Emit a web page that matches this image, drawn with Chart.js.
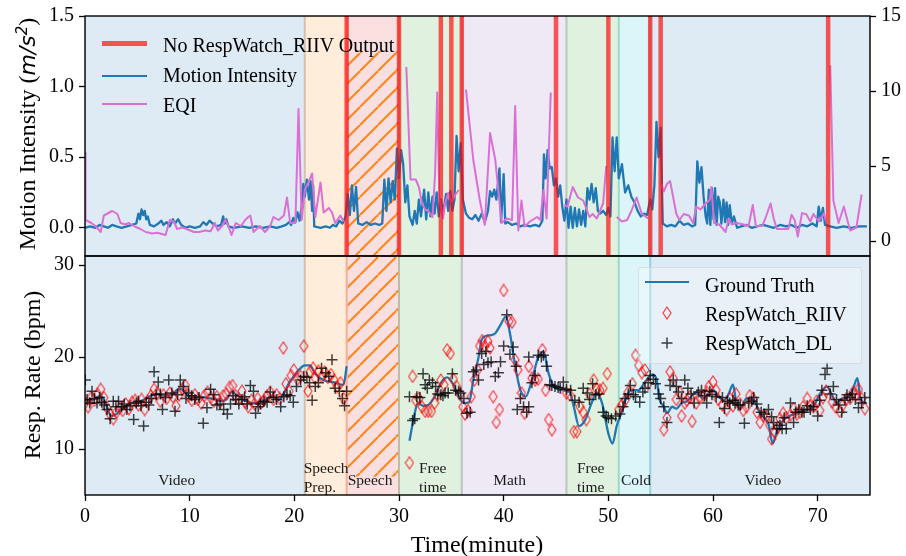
<!DOCTYPE html>
<html>
<head>
<meta charset="utf-8">
<script src="https://cdn.jsdelivr.net/npm/chart.js@4.4.1/dist/chart.umd.min.js"></script>
<style>
  html, body { margin: 0; padding: 0; background: #fff; }
  #wrap { position: relative; width: 906px; height: 556px; overflow: hidden; font-family: 'Liberation Serif', serif; color: #000; }
  canvas { position: absolute; left: 0; }
  .txt { position: absolute; white-space: nowrap; font-size: 20px; line-height: 20px; }
  .title { position: absolute; white-space: nowrap; font-size: 24px; line-height: 24px; width: 320px; height: 24px; text-align: center; }
  .math { font-family: 'DejaVu Sans', sans-serif; font-style: italic; font-size: 22px; }
  .math sup { font-size: 15px; line-height: 0; }
  .sw { position: absolute; }
</style>
</head>
<body>
<div id="wrap">
  <canvas id="topChart" width="906" height="262" style="top:0"></canvas>
  <canvas id="botChart" width="906" height="306" style="top:250px"></canvas>

  <div class="title" style="left:-133.5px; top:122px; transform:rotate(-90deg)">Motion Intensity (<span class="math">m/s<sup>2</sup></span>)</div>
  <div class="title" style="left:-128.5px; top:363px; transform:rotate(-90deg)">Resp. Rate (bpm)</div>
  <div class="title" style="left:317px; top:532px">Time(minute)</div>

  <!-- top legend -->
  <div class="sw" style="left:102px; top:40.5px; width:45px; height:5px; background:rgba(255,0,0,0.65)"></div>
  <div class="txt" style="left:163px; top:34.5px">No RespWatch_RIIV Output</div>
  <div class="sw" style="left:102px; top:74.8px; width:45px; height:2.4px; background:#1f77b4"></div>
  <div class="txt" style="left:163px; top:65px">Motion Intensity</div>
  <div class="sw" style="left:102px; top:103px; width:45px; height:2px; background:#da70d6"></div>
  <div class="txt" style="left:163px; top:94.5px">EQI</div>

  <!-- bottom legend -->
  <div class="sw" style="left:638px; top:267px; width:222px; height:95px; background:rgba(255,255,255,0.3); border:1px solid rgba(205,205,205,0.6); border-radius:4px"></div>
  <div class="sw" style="left:645px; top:280.8px; width:44px; height:2.4px; background:#1f77b4"></div>
  <div class="txt" style="left:705px; top:274.5px">Ground Truth</div>
  <svg class="sw" style="left:662px; top:306px" width="10" height="14"><path d="M5 1 L9 7 L5 13 L1 7 Z" fill="none" stroke="rgba(255,0,0,0.75)" stroke-width="1.2"/></svg>
  <div class="txt" style="left:705px; top:303.5px">RespWatch_RIIV</div>
  <svg class="sw" style="left:661px; top:337px" width="12" height="12"><path d="M6 0.5 V11.5 M0.5 6 H11.5" stroke="rgba(0,0,0,0.75)" stroke-width="1.5"/></svg>
  <div class="txt" style="left:705px; top:333px">RespWatch_DL</div>
</div>

<script>
// ---------- DATA ----------
const xTicks = [0, 10, 20, 30, 40, 50, 60, 70];
const motionTicks = [0, 0.5, 1.0, 1.5];
const eqiTicks = [0, 5, 10, 15];
const rateTicks = [10, 20, 30];

const phaseBounds = [[0, 21], [21, 25], [25, 30], [30, 36], [36, 46], [46, 51], [51, 54], [54, 75]];
const phaseNames = ['Video', 'Speech\nPrep.', 'Speech', 'Free\ntime', 'Math', 'Free\ntime', 'Cold', 'Video'];
const noOutputTimes = [25, 30, 34, 35, 36, 45, 50, 54, 55, 71];

// motion intensity (minute, m/s^2)
const motion = [[0,0.0],[0.5,0.01],[1,0.0],[1.4,0.02],[1.8,0.01],[2.2,0.0],[2.6,0.02],[3,0.01],[3.5,0.0],[4,0.01],[4.5,0.02],[4.9,0.03],
  [5.1,0.1],[5.25,0.06],[5.4,0.13],[5.55,0.09],[5.7,0.12],[5.85,0.06],[6.0,0.08],[6.2,0.02],[6.6,0.01],[7.0,0.03],[7.3,0.05],[7.5,0.02],
  [7.8,0.04],[8.1,0.01],[8.4,0.06],[8.6,0.03],[8.9,0.06],[9.2,0.02],[9.6,0.0],[10,0.01],[10.5,0.0],[11,0.01],[11.3,0.04],[11.6,0.02],
  [11.9,0.05],[12.2,0.03],[12.6,0.01],[13.0,0.02],[13.2,0.08],[13.35,0.03],[13.5,0.06],[13.7,0.01],[14.2,0.0],[15,0.01],[15.7,0.0],
  [16.3,0.01],[17,0.0],[17.7,0.01],[18.3,0.0],[18.8,0.01],[19.2,0.02],[19.5,0.04],[19.7,0.02],[19.9,0.07],[20.1,0.04],[20.3,0.11],
  [20.5,0.05],[20.7,0.15],[20.85,0.31],[21.0,0.22],[21.2,0.34],[21.4,0.2],[21.55,0.33],[21.7,0.12],[21.8,0.3],[21.9,0.01],[22.5,0.0],
  [23,0.01],[23.4,0.0],[23.7,0.02],[24.0,0.01],[24.3,0.05],[24.6,0.03],[24.9,0.08],[25.1,0.24],[25.3,0.09],[25.5,0.3],[25.7,0.12],
  [25.9,0.29],[26.1,0.03],[26.5,0.02],[26.9,0.04],[27.3,0.02],[27.7,0.03],[28.1,0.02],[28.4,0.03],[28.6,0.34],[28.8,0.12],[29.0,0.35],
  [29.2,0.18],[29.4,0.33],[29.6,0.2],[29.8,0.56],[30.0,0.35],[30.2,0.55],[30.4,0.45],[30.6,0.18],[30.8,0.3],[31.0,0.08],[31.3,0.02],
  [31.5,0.12],[31.7,0.03],[31.9,0.2],[32.1,0.08],[32.4,0.27],[32.6,0.06],[32.8,0.25],[33.0,0.08],[33.2,0.22],[33.4,0.1],[33.6,0.25],
  [33.8,0.08],[34.0,0.2],[34.2,0.1],[34.5,0.24],[34.7,0.12],[34.9,0.26],[35.1,0.12],[35.3,0.2],[35.5,0.65],[35.7,0.4],[35.9,0.6],
  [36.1,0.2],[36.4,0.1],[36.7,0.07],[37.0,0.06],[37.3,0.09],[37.6,0.05],[37.9,0.1],[38.2,0.04],[38.5,0.12],[38.7,0.26],[38.9,0.22],
  [39.1,0.27],[39.3,0.2],[39.6,0.42],[39.75,0.04],[40.0,0.38],[40.15,0.03],[40.4,0.04],[40.8,0.02],[41.2,0.03],[41.6,0.01],[42.0,0.02],
  [42.5,0.01],[43.0,0.02],[43.4,0.01],[43.7,0.05],[43.85,0.52],[44.0,0.35],[44.2,0.55],[44.4,0.42],[44.6,0.43],[44.8,0.3],[45.0,0.35],
  [45.2,0.22],[45.4,0.3],[45.6,0.15],[45.8,0.05],[46.0,0.2],[46.2,0.0],[46.4,0.15],[46.6,0.0],[46.8,0.14],[47.0,0.01],[47.2,0.13],
  [47.4,0.02],[47.6,0.12],[47.8,0.01],[48.0,0.28],[48.2,0.2],[48.4,0.31],[48.6,0.18],[48.8,0.28],[49.0,0.12],[49.2,0.1],[49.5,0.12],
  [49.8,0.09],[50.0,0.14],[50.2,0.08],[50.4,0.64],[50.6,0.4],[50.8,0.64],[51.0,0.35],[51.3,0.45],[51.6,0.25],[51.9,0.3],[52.2,0.22],
  [52.5,0.18],[52.8,0.12],[53.1,0.08],[53.4,0.1],[53.7,0.09],[54.0,0.2],[54.2,0.13],[54.4,0.3],[54.6,0.75],[54.8,0.5],[55.0,0.71],
  [55.2,0.03],[55.6,0.01],[56.0,0.02],[56.4,0.01],[56.8,0.05],[57.2,0.02],[57.6,0.03],[58.0,0.01],[58.3,0.02],[58.5,0.47],[58.7,0.32],
  [58.9,0.43],[59.1,0.22],[59.3,0.08],[59.45,0.03],[59.6,0.27],[59.75,0.02],[59.9,0.28],[60.05,0.06],[60.2,0.28],[60.35,0.02],
  [60.5,0.22],[60.65,0.18],[60.8,0.03],[61.0,0.2],[61.15,0.04],[61.3,0.18],[61.45,0.02],[61.6,0.16],[61.8,0.03],[62.0,0.08],[62.3,0.0],
  [62.7,0.01],[63.2,0.02],[63.7,0.0],[64.2,0.01],[64.8,0.02],[65.3,0.01],[65.8,0.0],[66.4,0.02],[67,0.01],[67.5,0.02],[68.0,0.0],
  [68.5,0.02],[69.0,0.01],[69.5,0.03],[69.9,0.01],[70.1,0.15],[70.3,0.05],[70.5,0.14],[70.7,0.02],[71.2,0.01],[71.8,0.0],[72.5,0.01],
  [73.2,0.0],[74.0,0.01],[74.7,0.01]];

// EQI (minute, index); null = no output
const eqi = [[0,5.9],[0.05,1.4],[0.6,1.2],[1.0,1.0],[1.5,0.6],[1.8,1.7],[2.6,2.0],[3.1,1.8],[3.4,1.2],[3.85,1.1],[4.2,1.2],[4.8,0.95],
  [5.3,0.8],[5.8,0.6],[6.4,0.5],[6.9,0.55],[7.7,0.4],[8.1,1.4],[8.5,1.3],[8.8,0.8],[9.3,0.9],[9.7,0.8],[10.4,0.6],[10.9,0.6],[11.5,0.7],
  [12.0,0.65],[12.4,1.2],[12.7,0.7],[13.1,1.0],[13.4,1.4],[13.7,1.0],[14.0,0.4],[14.4,1.2],[14.9,1.0],[15.3,1.4],[15.6,1.6],[15.8,1.7],
  [16.1,0.6],[16.7,1.0],[17.2,0.6],[17.7,1.0],[18.0,1.6],[18.5,1.4],[19.0,1.7],[19.3,2.9],[19.6,1.2],[20.1,1.2],[20.4,8.8],[20.7,1.4],
  [21.0,3.4],[21.4,4.0],[21.7,4.5],[22.0,1.6],[22.5,3.9],[22.8,1.9],[23.3,2.2],[23.6,1.9],[23.9,1.2],[24.4,1.7],[24.7,1.3],[25,null],
  [30.7,11.6],[31.1,4.1],[31.6,4.1],[31.9,3.6],[32.2,2.5],[32.5,2.1],[32.8,2.0],[33.2,1.6],[33.45,4.5],[33.65,9.9],[33.85,2.9],
  [34.2,1.5],[34.4,2.5],[34.7,3.2],[35.0,2.6],[35.3,3.0],[35.7,3.4],[36,null],[36.4,10.1],[37.1,5.4],[37.7,2.8],[38.2,1.07],[38.7,7.2],
  [39.2,5.4],[39.8,1.2],[40.3,1.5],[40.8,1.4],[41.1,9.0],[41.4,0.7],[41.7,2.7],[42.0,0.96],[42.5,1.3],[43.2,1.6],[43.5,1.4],[43.8,3.4],
  [44.1,1.5],[44.5,9.9],[45,null],[45.8,2.4],[46.1,2.3],[46.6,3.6],[47.1,2.9],[47.6,2.7],[48.2,1.6],[48.5,1.8],[48.9,1.5],[49.2,2.0],
  [49.5,2.5],[49.8,5.0],[50,null],[50.8,1.6],[51.3,1.3],[51.8,1.4],[52.2,2.0],[52.7,2.9],[53.2,1.8],[53.8,1.5],[54,null],[55.0,3.9],
  [55.3,3.3],[55.6,3.8],[55.9,4.0],[56.5,1.8],[56.8,1.4],[57.2,1.8],[57.7,1.7],[58.1,1.2],[58.4,2.3],[58.8,2.1],[59.3,2.5],[59.7,2.75],
  [59.85,3.6],[60.1,1.2],[60.6,1.1],[61.2,0.6],[61.5,1.5],[61.8,1.1],[62.3,1.2],[62.9,1.1],[63.4,1.0],[63.8,2.4],[64.1,1.0],[64.7,1.0],
  [65.0,1.5],[65.5,2.5],[65.8,1.5],[66.1,0.8],[66.7,0.8],[67.2,0.8],[67.5,1.75],[67.8,1.4],[68.1,0.3],[68.5,1.85],[68.9,1.8],[69.3,1.3],
  [69.6,1.8],[70.1,1.3],[70.6,1.85],[70.75,1.4],[71,null],[71.2,11.7],[71.5,2.7],[72.0,1.2],[72.5,2.3],[73.1,0.7],[73.7,0.9],[74.2,3.1]];

// ground truth respiration rate (minute, bpm)
const groundTruth = [[0,15.4],[0.5,15.3],[1.0,15.5],[1.5,15.8],[2.0,14.9],[2.5,13.6],[3.0,13.8],[3.5,14.4],[4.0,14.7],[4.5,15.0],
  [5.0,15.1],[5.5,15.3],[6.0,15.6],[6.5,15.9],[7.0,16.0],[7.5,15.8],[8.0,15.9],[8.5,16.1],[9.0,16.6],[9.5,16.3],[10.0,15.7],[10.5,15.6],
  [11.0,15.7],[11.5,15.6],[12.0,15.5],[12.5,15.4],[13.0,15.2],[13.5,15.4],[14.0,16.2],[14.5,15.9],[15.0,15.4],[15.5,15.2],[16.0,15.0],
  [16.5,15.0],[17.0,15.2],[17.5,15.5],[18.0,15.7],[18.5,15.3],[19.0,16.1],[19.5,17.2],[20.0,18.0],[20.5,18.7],[21.0,19.1],[21.5,19.1],
  [22.0,18.2],[22.5,17.7],[23.0,17.4],[23.5,17.3],[24.0,17.2],[24.5,17.0],[24.7,17.0],[25.0,19.0],[28,null],
  [31.0,10.9],[31.5,13.9],[31.8,15.0],[32.3,14.7],[32.8,14.8],[33.5,15.9],[34.0,17.2],[34.6,17.8],[35.1,17.2],[35.7,15.7],[36.2,15.0],
  [36.7,15.1],[37.1,17.5],[37.6,20.0],[37.9,21.9],[38.3,22.3],[38.8,22.4],[39.2,22.6],[39.7,23.5],[40.2,24.4],[40.6,22.6],[41.1,19.0],
  [41.6,16.4],[42.1,15.7],[42.7,17.5],[43.3,20.0],[43.8,20.6],[44.3,18.2],[44.8,16.8],[45.6,16.4],[46.3,16.2],[46.7,14.6],[47.2,12.5],
  [47.8,13.2],[48.4,15.0],[48.9,16.1],[49.4,15.0],[50.0,11.7],[50.4,10.6],[50.8,12.5],[51.3,14.1],[51.9,16.1],[52.4,16.4],[52.9,16.4],
  [53.5,17.3],[54.2,18.1],[54.6,17.6],[54.9,15.4],[55.3,14.6],[55.6,13.9],[56.1,14.6],[56.5,14.4],[57.0,15.0],[57.5,15.2],[58.0,15.8],
  [58.4,16.2],[59.1,15.5],[59.6,16.1],[60.0,16.4],[60.5,15.8],[61.0,15.3],[61.5,16.0],[61.9,17.0],[62.2,15.3],[62.6,14.4],[63.2,15.5],
  [63.9,15.3],[64.5,13.9],[65.3,12.7],[65.7,10.6],[66.1,11.9],[66.7,13.1],[67.7,13.8],[68.7,14.2],[69.6,14.6],[70.2,16.0],[70.9,16.8],
  [71.4,15.8],[71.8,15.0],[72.3,15.5],[72.8,15.6],[73.3,16.3],[73.8,17.7],[74.1,15.4],[74.6,15.0]];

// RespWatch_RIIV estimates (minute, bpm)
const riiv = [[0,15.0],[0.3,14.6],[0.6,15.6],[0.9,15.3],[1.2,16.0],[1.5,16.5],[1.8,15.6],[2.1,14.5],[2.4,13.8],[2.7,13.3],[3.0,14.0],
  [3.3,14.5],[3.6,14.2],[3.9,14.9],[4.2,14.4],[4.5,15.1],[4.8,15.3],[5.1,14.8],[5.4,15.4],[5.7,14.3],[6.0,15.2],[6.3,15.8],[6.6,16.5],
  [6.9,16.1],[7.2,15.2],[7.5,15.9],[7.8,15.5],[8.1,16.1],[8.4,15.7],[8.7,14.7],[9.0,15.9],[9.3,16.5],[9.6,16.9],[9.9,15.8],[10.2,15.3],
  [10.5,15.9],[10.8,15.4],[11.1,15.0],[11.4,15.8],[11.7,16.2],[12.0,15.6],[12.3,15.2],[12.6,15.7],[12.9,15.1],[13.2,15.8],[13.5,16.0],
  [13.8,16.7],[14.1,16.9],[14.4,15.8],[14.7,15.4],[15.0,16.3],[15.3,15.1],[15.6,14.6],[15.9,15.3],[16.2,14.9],[16.5,15.5],[16.8,15.0],
  [17.1,15.3],[17.4,15.8],[17.7,16.2],[18.0,15.4],[18.3,15.9],[18.6,15.5],[18.95,21.0],[19.2,17.1],[19.5,16.3],[19.7,18.0],[19.95,18.6],
  [20.3,17.6],[20.6,17.9],[20.9,21.2],[21.3,16.3],[21.5,18.4],[21.8,18.8],[22.0,17.7],[22.3,18.5],[22.6,17.9],[22.9,18.4],[23.2,17.8],
  [23.5,18.1],[23.8,17.5],[24.1,16.8],[24.4,17.2],[24.7,15.5],
  [31.0,8.5],[31.3,17.9],[31.6,15.3],[31.9,15.5],[32.2,14.6],[32.5,14.1],[32.8,14.1],[33.1,14.1],[33.4,15.0],[33.7,15.9],[34.0,17.5],
  [34.3,17.0],[34.6,20.8],[34.9,20.4],[35.2,17.6],[35.5,16.8],[35.8,16.0],[36.1,14.6],[36.3,13.8],[36.6,14.2],[36.9,15.7],[37.2,17.5],
  [37.5,18.6],[37.7,21.2],[37.95,21.8],[38.2,21.2],[38.5,21.7],[38.7,21.0],[39.0,15.7],[39.3,12.9],[39.6,14.3],[40.0,27.25],[40.5,23.9],
  [40.8,23.8],[41.1,19.7],[41.35,18.6],[41.7,16.1],[42.0,13.9],[42.4,19.0],[42.7,17.7],[43.0,17.5],[43.3,17.6],[43.7,20.8],[44.0,16.4],
  [44.3,13.2],[44.6,12.1],[46.0,16.1],[46.3,15.9],[46.7,11.9],[47.0,11.9],[47.3,14.6],[47.6,14.0],[47.9,13.2],[48.2,16.0],[48.6,17.5],
  [48.9,16.5],[49.2,16.4],[49.5,16.6],[49.9,18.2],[51.0,14.3],[51.3,14.8],[51.6,15.3],[51.9,16.2],[52.3,17.1],[52.6,20.2],[52.9,19.1],
  [53.2,18.3],[53.5,18.6],[53.8,17.1],[55.3,12.1],[55.6,13.4],[55.9,18.4],[56.2,17.7],[56.5,15.4],[56.8,16.2],[57.0,13.6],[57.3,15.0],
  [57.5,15.3],[57.8,15.7],[58.0,13.0],[58.4,15.0],[58.7,15.6],[59.1,15.8],[59.4,16.2],[59.6,16.8],[60.0,17.3],[60.3,16.4],[60.5,15.4],
  [60.9,14.8],[61.3,14.3],[61.6,15.5],[61.9,14.7],[62.2,16.0],[62.6,14.9],[62.9,14.2],[63.2,14.6],[63.5,15.8],[63.8,15.5],[64.2,14.0],
  [64.5,12.9],[64.8,13.6],[65.1,13.6],[65.4,12.6],[65.6,11.1],[65.9,11.8],[66.2,12.4],[66.4,13.3],[66.7,13.9],[67.0,13.4],[67.4,13.7],
  [67.7,14.4],[68.0,13.8],[68.3,14.0],[68.6,14.6],[69.0,15.5],[69.3,14.7],[69.6,14.6],[69.9,15.2],[70.2,14.2],[70.5,15.6],[70.8,16.3],
  [71.4,15.1],[71.7,14.6],[72.1,14.1],[72.4,14.8],[72.7,15.4],[73.1,15.5],[73.4,16.2],[73.7,15.9],[73.9,16.5],[74.2,15.5],[74.5,14.4]];

// RespWatch_DL estimates (minute, bpm)
const dl = [[0.03,17.5],[0.2,15.4],[0.45,15.0],[0.67,16.3],[0.9,15.5],[1.15,15.0],[1.4,15.6],[1.6,15.1],[1.85,14.8],[2.1,14.3],
  [2.4,13.3],[2.7,15.2],[2.95,14.6],[3.2,15.2],[3.5,14.6],[3.75,14.9],[4.0,14.3],[4.3,14.7],[4.65,13.2],[4.9,15.0],[5.1,15.2],
  [5.35,14.7],[5.6,12.5],[5.85,15.1],[6.1,14.8],[6.35,15.5],[6.6,18.4],[6.8,15.9],[7.0,17.3],[7.2,16.0],[7.4,14.3],[7.7,15.6],
  [8.0,17.5],[8.3,16.1],[8.6,14.1],[8.85,15.9],[9.1,17.5],[9.4,16.8],[9.65,15.5],[9.9,16.1],[10.2,15.8],[10.5,15.4],[10.9,15.6],
  [11.3,12.8],[11.65,14.5],[12.0,16.5],[12.3,15.9],[12.6,14.8],[12.9,14.9],[13.25,14.3],[13.6,13.8],[13.9,14.9],[14.15,15.8],
  [14.4,15.4],[14.7,14.9],[15.0,15.4],[15.25,15.7],[15.5,14.9],[15.8,16.9],[16.1,16.3],[16.3,13.9],[16.55,14.6],[16.75,14.9],
  [17.1,15.2],[17.4,15.1],[17.7,16.2],[18.0,15.6],[18.3,15.4],[18.7,14.6],[19.0,15.7],[19.3,15.9],[19.6,15.8],[19.9,15.1],[20.2,16.8],
  [20.6,17.5],[20.9,17.9],[21.2,17.8],[21.45,17.2],[21.7,15.3],[22.0,16.8],[22.3,17.2],[22.6,18.8],[23.0,18.3],[23.3,17.9],[23.6,19.7],
  [23.9,16.6],[24.3,16.3],[24.6,15.5],[24.8,14.7],[25.0,16.3],
  [31.0,15.7],[31.3,13.1],[31.5,13.3],[31.7,15.7],[32.0,15.6],[32.3,18.2],[32.5,17.0],[32.7,16.6],[32.9,17.5],[33.2,17.2],[33.5,16.8],
  [33.7,16.0],[34.0,15.9],[34.2,15.8],[34.4,16.1],[34.7,16.1],[35.1,18.2],[35.4,16.4],[35.7,16.3],[35.9,16.1],[36.2,15.5],[36.5,13.9],
  [36.8,14.0],[37.1,18.4],[37.4,18.6],[37.6,17.5],[37.9,20.4],[38.1,19.2],[38.3,20.6],[38.5,19.4],[38.8,19.5],[39.2,17.9],[39.5,18.3],
  [39.7,19.5],[40.0,21.2],[40.3,24.6],[40.6,20.3],[40.9,21.1],[41.2,19.0],[41.3,14.3],[41.6,15.5],[41.9,14.6],[42.2,14.0],[42.4,14.6],
  [42.4,20.0],[42.7,17.2],[43.0,18.0],[43.3,20.2],[43.6,20.0],[43.8,20.2],[44.1,19.0],[44.4,17.0],[44.6,16.9],[44.9,16.8],[45.2,16.7],
  [45.4,16.6],[45.7,17.3],[46.0,16.5],[46.4,16.4],[46.8,15.3],[47.2,15.1],[47.6,16.6],[48.0,16.1],[48.2,15.4],[48.5,17.1],[48.8,15.9],
  [49.1,16.0],[49.5,14.0],[49.8,13.6],[50.0,13.4],[50.3,13.3],[50.7,13.6],[51.1,13.8],[51.4,14.6],[51.6,15.5],[51.9,16.0],[52.1,16.9],
  [52.4,15.9],[52.6,15.7],[53.0,15.1],[53.3,16.2],[53.5,16.6],[53.8,17.2],[54.0,18.0],[54.3,17.6],[54.5,17.1],[54.8,16.0],[55.0,15.5],
  [55.3,14.6],[55.6,12.9],[55.9,16.9],[56.2,17.5],[56.5,16.8],[56.7,16.2],[57.0,15.5],[57.3,17.5],[57.6,16.6],[57.9,16.0],[58.2,15.0],
  [58.6,16.2],[58.9,16.4],[59.2,15.8],[59.4,15.0],[59.7,16.3],[59.9,15.9],[60.3,15.7],[60.6,12.9],[60.9,15.6],[61.1,14.4],[61.4,15.2],
  [61.6,15.0],[61.9,15.3],[62.1,15.0],[62.4,14.8],[62.6,14.8],[63.0,12.8],[63.4,15.0],[63.7,15.2],[63.9,15.6],[64.2,14.9],[64.6,14.0],
  [64.9,13.8],[65.3,14.3],[65.6,13.5],[65.8,12.9],[66.1,12.2],[66.4,12.6],[66.6,12.2],[66.8,13.4],[67.0,12.2],[67.4,15.0],[67.7,12.9],
  [67.9,14.0],[68.2,14.3],[68.5,14.0],[68.7,14.0],[69.0,14.7],[69.3,14.3],[69.6,14.6],[70.0,13.6],[70.2,15.3],[70.4,16.4],[70.7,18.1],
  [70.9,18.8],[71.2,16.0],[71.5,16.8],[71.8,15.4],[72.0,14.8],[72.3,14.0],[72.6,15.3],[72.8,15.9],[73.1,15.6],[73.3,16.0],[73.6,15.4],
  [73.9,14.5],[74.2,15.0],[74.5,15.6]];

// ---------- STYLE ----------
const phaseColors = ['31,119,180', '255,127,14', '214,39,40', '44,160,44', '148,103,189', '44,160,44', '23,190,207', '31,119,180'];
const phaseLabelT = [7.0, 20.9, 25.1, 31.9, 39.0, 47.0, 51.2, 63.0];
const hatchPhase = 2;
const tickFont = { family: "'Liberation Serif', serif", size: 20 };

Chart.defaults.font.family = "'Liberation Serif', serif";
Chart.defaults.color = '#000';

const xy = arr => arr.map(([x, y]) => ({ x, y }));

function makeHatch() {
    const c = document.createElement('canvas');
    c.width = 18; c.height = 18;
    const g = c.getContext('2d');
    g.strokeStyle = 'rgba(255,127,14,0.95)';
    g.lineWidth = 2;
    for (const k of [-18, 0, 18]) {
        g.beginPath(); g.moveTo(k, 18); g.lineTo(k + 18, 0); g.stroke();
    }
    return c;
}

function diamondMarker() {
    const c = document.createElement('canvas');
    c.width = 10; c.height = 14;
    const g = c.getContext('2d');
    g.strokeStyle = 'rgba(255,0,0,0.75)';
    g.lineWidth = 1.2;
    g.beginPath(); g.moveTo(5, 1); g.lineTo(9, 7); g.lineTo(5, 13); g.lineTo(1, 7); g.closePath(); g.stroke();
    return c;
}

// background phases, hatch and phase names
const phasePlugin = {
    id: 'phases',
    beforeDatasetsDraw(chart, args, opts) {
        const { ctx, chartArea: a, scales } = chart;
        const xs = scales.x, ys = scales[opts.axis];
        ctx.save();
        ctx.beginPath(); ctx.rect(a.left, a.top, a.right - a.left, a.bottom - a.top); ctx.clip();
        phaseBounds.forEach(([s, e], i) => {
            const x0 = xs.getPixelForValue(s), x1 = xs.getPixelForValue(e);
            ctx.fillStyle = `rgba(${phaseColors[i]},0.15)`;
            ctx.fillRect(x0, a.top, x1 - x0, a.bottom - a.top);
        });
        phaseBounds.forEach(([s, e], i) => {
            ctx.strokeStyle = `rgba(${phaseColors[i]},0.2)`;
            ctx.lineWidth = 2;
            [s, e].forEach(t => {
                const x = xs.getPixelForValue(t);
                ctx.beginPath(); ctx.moveTo(x, a.top); ctx.lineTo(x, a.bottom); ctx.stroke();
            });
        });
        const [hs, he] = phaseBounds[hatchPhase];
        const hx0 = xs.getPixelForValue(hs), hx1 = xs.getPixelForValue(he);
        const hy0 = ys.getPixelForValue(opts.hatch[1]), hy1 = ys.getPixelForValue(opts.hatch[0]);
        ctx.fillStyle = ctx.createPattern(makeHatch(), 'repeat');
        ctx.fillRect(hx0 + 1, hy0, hx1 - hx0 - 2, hy1 - hy0);
        if (opts.labels) {
            ctx.fillStyle = '#1a1a1a';
            ctx.font = "15.5px 'Liberation Serif', serif";
            ctx.textAlign = 'left';
            ctx.textBaseline = 'middle';
            phaseNames.forEach((name, i) => {
                const lines = name.split('\n');
                const x = xs.getPixelForValue(phaseLabelT[i]);
                if (lines.length === 1) ctx.fillText(lines[0], x, a.bottom - 14);
                else { ctx.fillText(lines[0], x, a.bottom - 26); ctx.fillText(lines[1], x, a.bottom - 7); }
            });
        }
        ctx.restore();
    }
};

const framePlugin = {
    id: 'frame',
    afterDraw(chart) {
        const { ctx, chartArea: a } = chart;
        ctx.save();
        ctx.strokeStyle = '#000';
        ctx.lineWidth = 1.4;
        ctx.strokeRect(a.left, a.top, a.right - a.left, a.bottom - a.top);
        ctx.restore();
    }
};

function yAxis(min, max, values, width, position, fmt) {
    return {
        type: 'linear', position, min, max,
        afterBuildTicks: s => { s.ticks = values.map(v => ({ value: v })); },
        afterFit: s => { s.width = width; },
        ticks: { font: tickFont, color: '#000', padding: 5, callback: fmt },
        grid: { display: true, drawOnChartArea: false, drawTicks: true, tickLength: 6, tickColor: '#000', tickWidth: 1.3 },
        border: { display: false }
    };
}

const motionMin = -0.2, motionMax = 1.5;
const noOutputLines = noOutputTimes.flatMap(t => [{ x: t, y: motionMin }, { x: t, y: motionMax }, { x: t, y: null }]);

// ---------- TOP: motion intensity + EQI ----------
const topConfig = () => ({
    type: 'line',
    data: {
        datasets: [
            { label: 'No RespWatch_RIIV Output', data: noOutputLines, borderColor: 'rgba(255,0,0,0.65)', borderWidth: 4.5,
              pointRadius: 0, yAxisID: 'y', clip: 0 },
            { label: 'EQI', data: xy(eqi), borderColor: '#da70d6', borderWidth: 2, pointRadius: 0, yAxisID: 'y2',
              borderJoinStyle: 'round' },
            { label: 'Motion Intensity', data: xy(motion), borderColor: '#1f77b4', borderWidth: 2.3, pointRadius: 0, yAxisID: 'y',
              borderJoinStyle: 'round' }
        ]
    },
    options: {
        responsive: false, maintainAspectRatio: false, animation: false, devicePixelRatio: 1,
        layout: { padding: { top: 16, bottom: 6, left: 0, right: 0 } },
        plugins: { legend: { display: false }, tooltip: { enabled: false },
                   phases: { axis: 'y', hatch: [motionMin, 1.25], labels: false } },
        scales: {
            x: { type: 'linear', min: 0, max: 75, display: false },
            y: yAxis(motionMin, motionMax, motionTicks, 85, 'left', v => v.toFixed(1)),
            y2: yAxis(-1, 15, eqiTicks, 36, 'right', v => v)
        }
    },
    plugins: [phasePlugin, framePlugin]
});

// ---------- BOTTOM: respiration rate ----------
const botConfig = () => ({
    type: 'line',
    data: {
        datasets: [
            { label: 'RespWatch_DL', data: xy(dl), showLine: false, pointStyle: 'cross', pointRadius: 5.5,
              borderColor: 'rgba(0,0,0,0.75)', borderWidth: 1.5 },
            { label: 'RespWatch_RIIV', data: xy(riiv), showLine: false, pointStyle: diamondMarker(), pointRadius: 5 },
            { label: 'Ground Truth', data: xy(groundTruth), borderColor: '#1f77b4', borderWidth: 2.3, pointRadius: 0,
              cubicInterpolationMode: 'monotone' }
        ]
    },
    options: {
        responsive: false, maintainAspectRatio: false, animation: false, devicePixelRatio: 1,
        layout: { padding: { top: 6, bottom: 0, left: 0, right: 36 } },
        plugins: { legend: { display: false }, tooltip: { enabled: false },
                   phases: { axis: 'y', hatch: [7, 31], labels: true } },
        scales: {
            x: {
                type: 'linear', min: 0, max: 75,
                afterBuildTicks: s => { s.ticks = xTicks.map(v => ({ value: v })); },
                afterFit: s => { s.height = 61; },
                ticks: { font: tickFont, color: '#000', padding: 4, maxRotation: 0, autoSkip: false },
                grid: { display: true, drawOnChartArea: false, drawTicks: true, tickLength: 6, tickColor: '#000', tickWidth: 1.3 },
                border: { display: false }
            },
            y: yAxis(5, 31, rateTicks, 85, 'left', v => v)
        }
    },
    plugins: [phasePlugin, framePlugin]
});

// build once, measure the plot area, then rebuild so the plot area lands exactly on [areaTop, areaBottom]
function mount(id, makeConfig, areaTop, areaBottom) {
    const cv = document.getElementById(id);
    const h0 = cv.height, top0 = parseFloat(cv.style.top) || 0;
    let chart = new Chart(cv, makeConfig());
    const a = chart.chartArea;
    const newH = Math.round(h0 + (areaBottom - areaTop) - (a.bottom - a.top));
    const newTop = areaTop - a.top;
    chart.destroy();
    cv.width = 906; cv.height = newH;
    cv.style.width = '906px'; cv.style.height = newH + 'px';
    cv.style.top = newTop + 'px';
    chart = new Chart(cv, makeConfig());
    return chart;
}

mount('topChart', topConfig, 16, 256);
mount('botChart', botConfig, 256, 495);
</script>
</body>
</html>
